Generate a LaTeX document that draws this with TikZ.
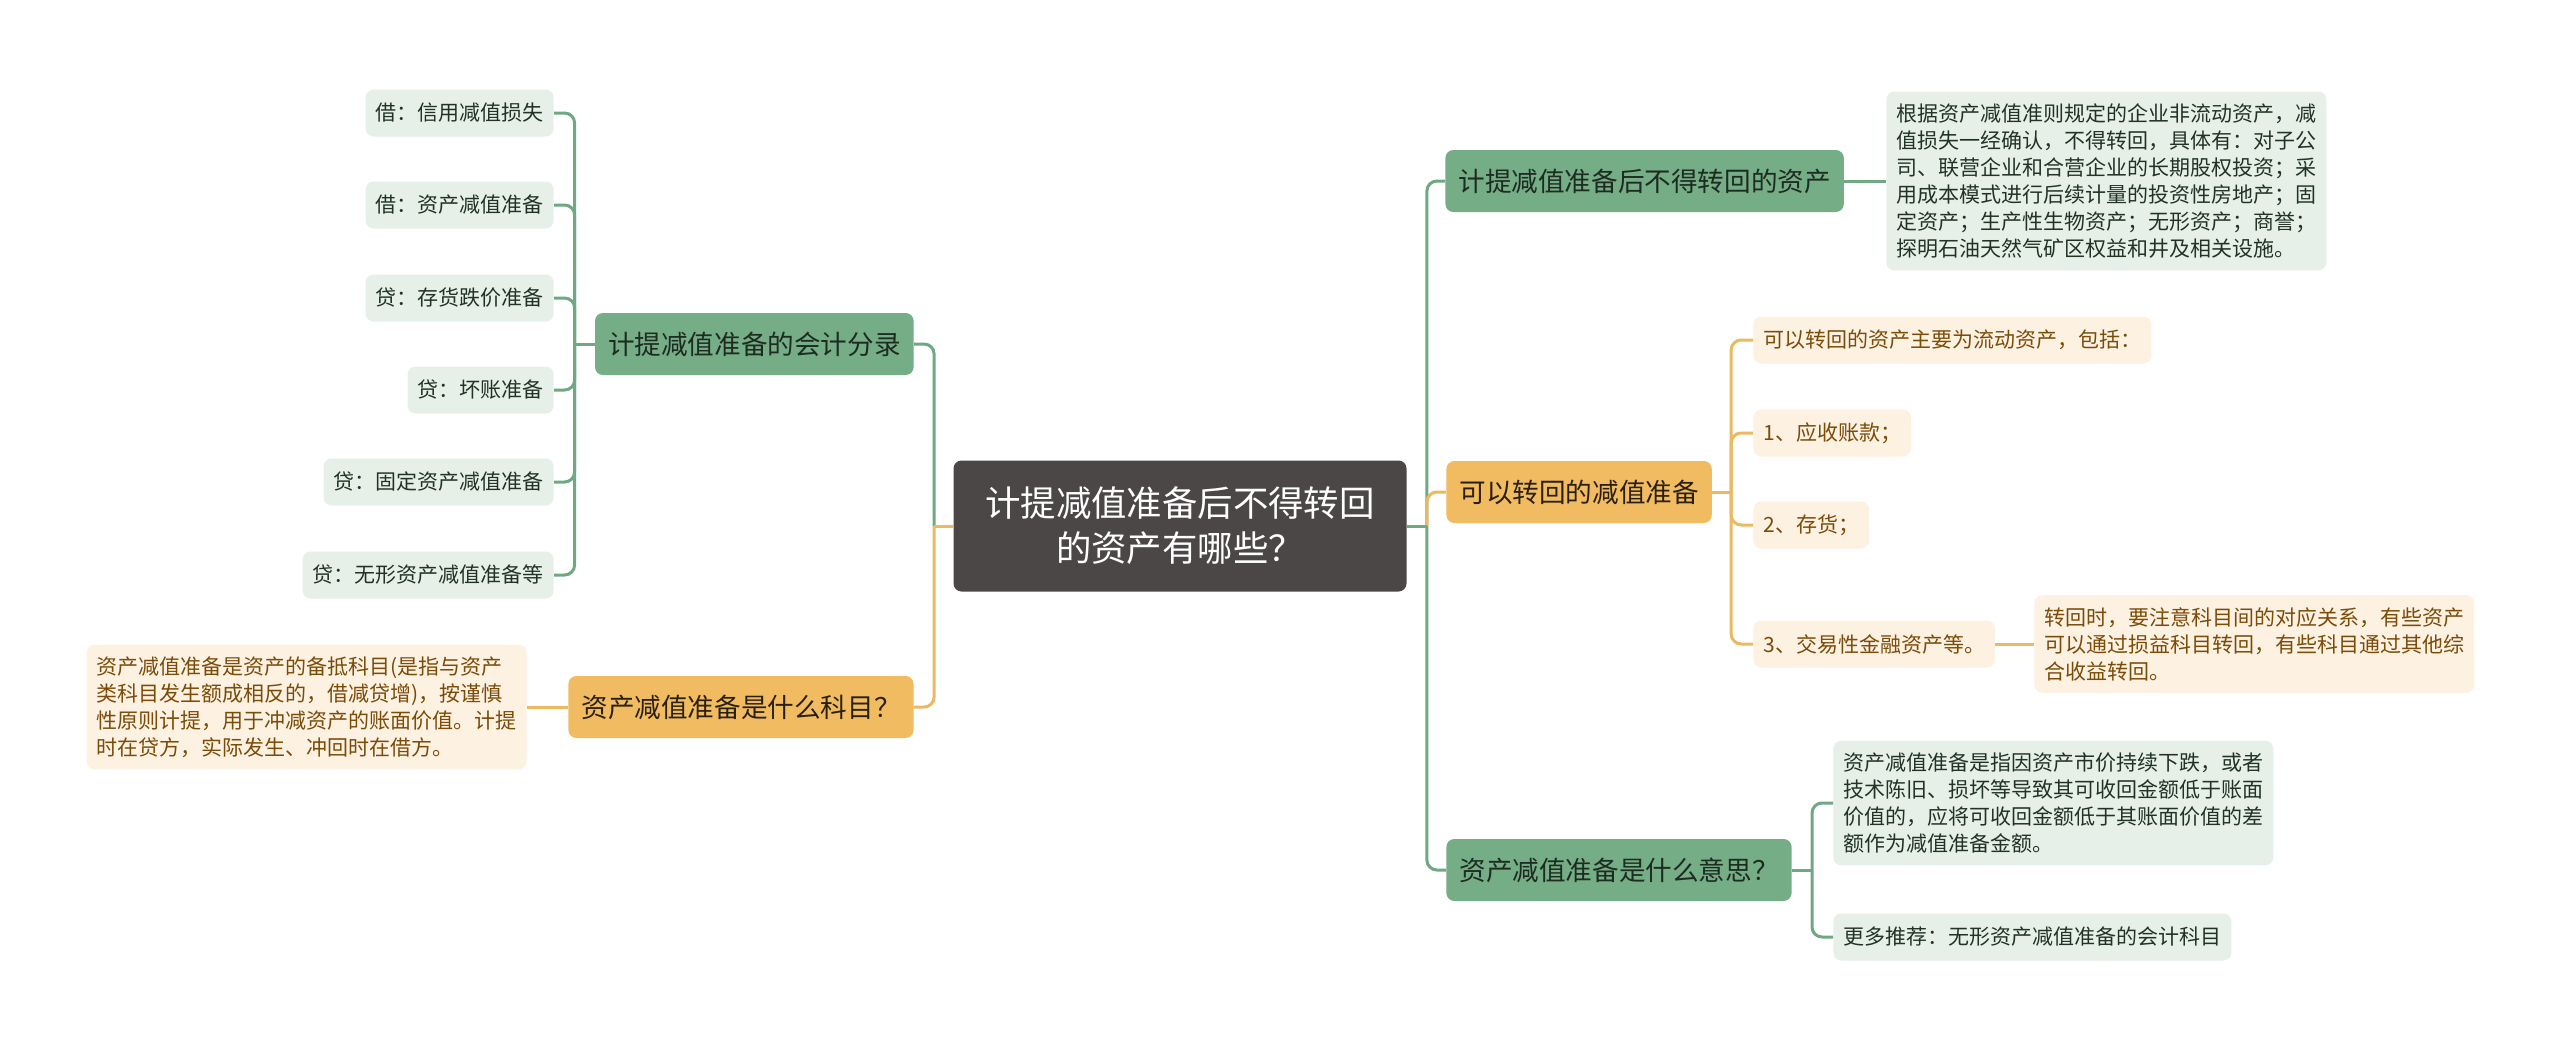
\documentclass[tikz,border=0pt]{standalone}
\usepackage{fontspec}
\setmainfont{Noto Sans CJK SC}
\definecolor{rootfill}{HTML}{4B4747}
\definecolor{gnode}{HTML}{74AD86}
\definecolor{onode}{HTML}{F1BB62}
\definecolor{gleaffill}{HTML}{E6F0E8}
\definecolor{oleaffill}{HTML}{FDF1E2}
\definecolor{gtext}{HTML}{1E2B21}
\definecolor{otext}{HTML}{2A2010}
\definecolor{gleaftext}{HTML}{223326}
\definecolor{oleaftext}{HTML}{7B4B08}
\definecolor{glinec}{HTML}{6FA883}
\definecolor{olinec}{HTML}{EBB961}
\begin{document}
\begin{tikzpicture}[x=0.5pt, y=-0.5pt,
    box/.style={rounded corners=4pt, inner xsep=5pt, inner ysep=6pt, align=left},
    leaf/.style={box, font=\fontsize{10.5}{13.5}\selectfont, minimum height=23.5pt},
    gleaf/.style={leaf, fill=gleaffill, text=gleaftext},
    oleaf/.style={leaf, fill=oleaffill, text=oleaftext},
    branch/.style={box, font=\fontsize{13.3}{16}\selectfont, inner xsep=6.5pt, minimum height=31pt},
    gbranch/.style={branch, fill=gnode, text=gtext},
    obranch/.style={branch, fill=onode, text=otext},
    gline/.style={draw=glinec, line width=1.5pt, rounded corners=5pt},
    oline/.style={draw=olinec, line width=1.5pt, rounded corners=5pt}]
    \useasboundingbox (0,0) rectangle (2560,1050);
    \fill[white] (0,0) rectangle (2560,1050);

    % centre
    \node[fill=rootfill, text=white, rounded corners=4pt, align=center,
          font=\fontsize{17.7}{22.5}\selectfont, minimum width=226.5pt, minimum height=65.5pt]
          (root) at (1180,526) {计提减值准备后不得转回\\的资产有哪些？};

    % left side
    \node[gbranch, anchor=east] (lb1) at (914,344) {计提减值准备的会计分录};
    \node[obranch, anchor=east] (lb2) at (914,707) {资产减值准备是什么科目？};
    \foreach \n/\y/\t in {1/113/借：信用减值损失, 2/205/借：资产减值准备, 3/298/贷：存货跌价准备,
        4/390/贷：坏账准备, 5/482/贷：固定资产减值准备, 6/575/贷：无形资产减值准备等}
        \node[gleaf, anchor=east] (la\n) at (554,\y) {\t};
    \node[oleaf, anchor=east] (lc1) at (527,707) {资产减值准备是资产的备抵科目(是指与资产\\类科目发生额成相反的，借减贷增)，按谨慎\\性原则计提，用于冲减资产的账面价值。计提\\时在贷方，实际发生、冲回时在借方。};

    % right side
    \node[gbranch, anchor=west] (rb1) at (1445,181) {计提减值准备后不得转回的资产};
    \node[obranch, anchor=west] (rb2) at (1446,492) {可以转回的减值准备};
    \node[gbranch, anchor=west] (rb3) at (1446,870) {资产减值准备是什么意思？};
    \node[gleaf, anchor=west] (ra1) at (1886,181) {根据资产减值准则规定的企业非流动资产，减\\值损失一经确认，不得转回，具体有：对子公\\司、联营企业和合营企业的长期股权投资；采\\用成本模式进行后续计量的投资性房地产；固\\定资产；生产性生物资产；无形资产；商誉；\\探明石油天然气矿区权益和井及相关设施。};
    \foreach \n/\y/\t in {1/340/可以转回的资产主要为流动资产，包括：, 2/433/1、应收账款；,
        3/525/2、存货；, 4/644/3、交易性金融资产等。}
        \node[oleaf, anchor=west] (rc\n) at (1753,\y) {\t};
    \node[oleaf, anchor=west] (rd1) at (2034,644) {转回时，要注意科目间的对应关系，有些资产\\可以通过损益科目转回，有些科目通过其他综\\合收益转回。};
    \node[gleaf, anchor=west] (re1) at (1833,803) {资产减值准备是指因资产市价持续下跌，或者\\技术陈旧、损坏等导致其可收回金额低于账面\\价值的，应将可收回金额低于其账面价值的差\\额作为减值准备金额。};
    \node[gleaf, anchor=west] (re2) at (1833,937) {更多推荐：无形资产减值准备的会计科目};

    % junctions
    \coordinate (lj) at ([xshift=-9.5pt]root.west);
    \coordinate (rj) at ([xshift=10pt]root.east);
    \coordinate (lb1j) at ([xshift=-10pt]lb1.west);
    \coordinate (rb2j) at ([xshift=9.5pt]rb2.east);
    \coordinate (rb3j) at ([xshift=10pt]rb3.east);

    % connectors
    \draw[gline] (lj) |- (lb1.east);
    \draw[oline] (lj) |- (lb2.east);
    \draw[oline] (root.west) -- (lj);
    \draw[gline] (lb1.west) -- (lb1j);
    \foreach \n in {1,...,6} \draw[gline] (lb1j) |- (la\n.east);
    \draw[oline] (lb2.west) -- (lc1.east);

    \draw[gline] (rj) |- (rb1.west);
    \draw[gline] (rj) |- (rb3.west);
    \draw[oline] (rj) |- (rb2.west);
    \draw[gline] (root.east) -- (rj);
    \draw[gline] (rb1.east) -- (ra1.west);
    \draw[oline] (rb2.east) -- (rb2j);
    \foreach \n in {1,...,4} \draw[oline] (rb2j) |- (rc\n.west);
    \draw[oline] (rc4.east) -- (rd1.west);
    \draw[gline] (rb3.east) -- (rb3j);
    \foreach \n in {1,2} \draw[gline] (rb3j) |- (re\n.west);
\end{tikzpicture}
\end{document}
